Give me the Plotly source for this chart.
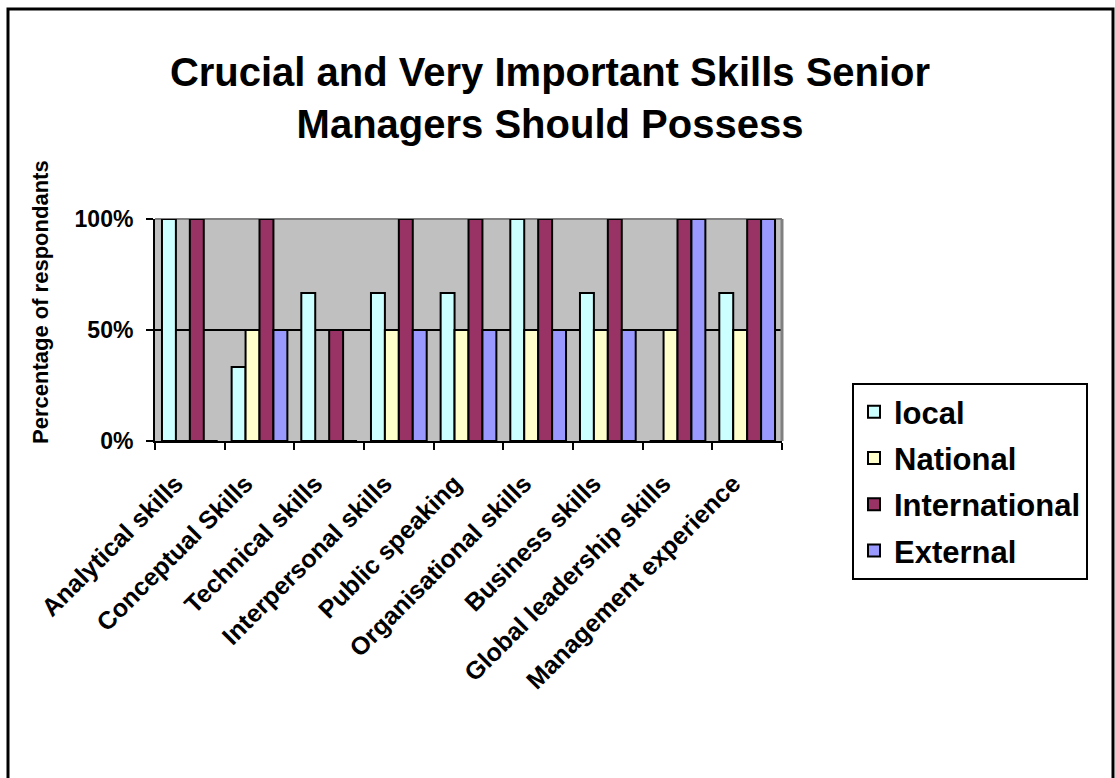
import plotly.graph_objects as go

# Survey results: share of respondents rating each skill crucial / very important
skills = [
    "Analytical skills",
    "Conceptual Skills",
    "Technical skills",
    "Interpersonal skills",
    "Public speaking",
    "Organisational skills",
    "Business skills",
    "Global leadership skills",
    "Management experience",
]
local = [1.0, 0.333, 0.667, 0.667, 0.667, 1.0, 0.667, 0.0, 0.667]
national = [0.0, 0.5, 0.0, 0.5, 0.5, 0.5, 0.5, 0.5, 0.5]
international = [1.0, 1.0, 0.5, 1.0, 1.0, 1.0, 1.0, 1.0, 1.0]
external = [0.0, 0.5, 0.0, 0.5, 0.5, 0.5, 0.5, 1.0, 1.0]

series = [
    ("local", local, "#CCFFFF"),
    ("National", national, "#FFFFCC"),
    ("International", international, "#993366"),
    ("External", external, "#9999FF"),
]

FONT = "Liberation Sans, Arial, sans-serif"

fig = go.Figure()
for name, values, color in series:
    fig.add_trace(
        go.Bar(
            name=name,
            x=skills,
            y=values,
            marker=dict(color=color, line=dict(color="black", width=2)),
            legendgroup=name,
        )
    )

W, H = 1115, 778
L, R, T, B = 155, 782, 219, 441  # plot area in pixels


def px_x(p):
    return (p - L) / (R - L)


def px_y(p):
    return (B - p) / (B - T)


fig.update_layout(
    width=W,
    height=H,
    margin=dict(l=L, r=W - R, t=T, b=H - B, pad=0),
    paper_bgcolor="white",
    plot_bgcolor="#C0C0C0",
    barmode="group",
    bargap=0.2,
    bargroupgap=0,
    font=dict(family=FONT, color="black"),
    title=dict(
        text="Crucial and Very Important Skills Senior<br>Managers Should Possess",
        font=dict(family=FONT, size=40, color="black", weight="bold"),
        x=550 / W,
        xref="container",
        xanchor="center",
        y=1 - 86 / H,
        yref="container",
        yanchor="middle",
    ),
    legend=dict(
        x=px_x(852),
        y=px_y(383),
        xanchor="left",
        yanchor="top",
        bgcolor="white",
        bordercolor="black",
        borderwidth=2,
        font=dict(family=FONT, size=31, color="black", weight="bold"),
        tracegroupgap=3,
        itemwidth=30,
    ),
    xaxis=dict(
        type="category",
        showline=True,
        linecolor="black",
        linewidth=2,
        ticks="outside",
        tickson="boundaries",
        ticklen=7,
        tickwidth=2,
        tickcolor="black",
        tickangle=-45,
        ticklabelstandoff=16,
        ticklabelshift=-14,
        tickfont=dict(family=FONT, size=25, color="black", weight="bold"),
        showgrid=False,
        zeroline=False,
        automargin=False,
    ),
    yaxis=dict(
        range=[0, 1],
        tickvals=[0, 0.5, 1],
        tickformat=".0%",
        showline=True,
        linecolor="black",
        linewidth=2,
        ticks="outside",
        ticklen=7,
        tickwidth=2,
        tickcolor="black",
        ticklabelstandoff=8,
        tickfont=dict(family=FONT, size=23, color="black", weight="bold"),
        showgrid=False,
        zeroline=False,
        automargin=False,
    ),
)

# 50% gridline behind the bars
fig.add_shape(
    type="line", xref="paper", yref="y", x0=0, x1=1, y0=0.5, y1=0.5,
    line=dict(color="black", width=2), layer="below",
)
# grey top and right edges of the plot area
fig.add_shape(
    type="line", xref="paper", yref="paper", x0=0, x1=1, y0=1, y1=1,
    line=dict(color="#808080", width=2), layer="below",
)
fig.add_shape(
    type="line", xref="paper", yref="paper", x0=1, x1=1, y0=0, y1=1,
    line=dict(color="#808080", width=3), layer="below",
)
# outer chart frame
fig.add_shape(
    type="rect", xref="paper", yref="paper",
    x0=px_x(8), x1=px_x(1113), y0=px_y(790), y1=px_y(9),
    line=dict(color="black", width=3), fillcolor="rgba(0,0,0,0)",
    layer="above",
)

# vertical axis title
fig.add_annotation(
    text="Percentage of respondants",
    xref="paper", yref="paper",
    x=px_x(40), y=px_y(302),
    xanchor="center", yanchor="middle",
    textangle=-90,
    showarrow=False,
    font=dict(family=FONT, size=22, color="black", weight="bold"),
)

fig.write_html("out.html")
